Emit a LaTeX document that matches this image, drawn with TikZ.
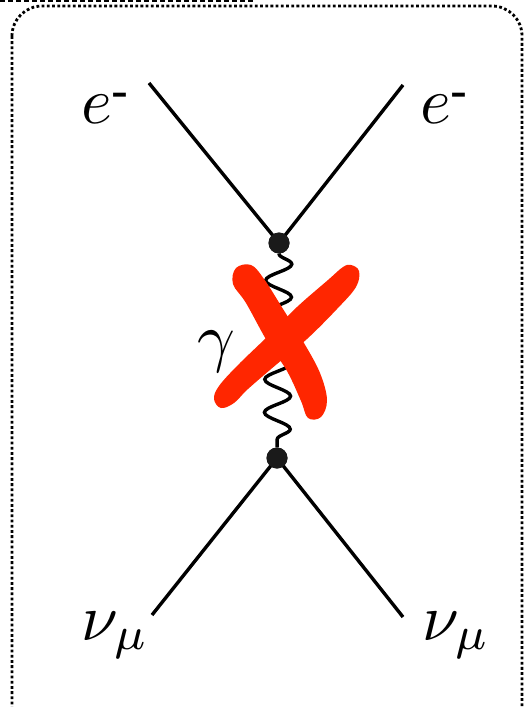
\documentclass[tikz,border=0pt]{standalone}
\usetikzlibrary{decorations.pathmorphing}
\definecolor{xred}{RGB}{255,38,0}
\definecolor{dotcol}{RGB}{26,26,26}
\begin{document}
\begin{tikzpicture}[x=1pt,y=-1pt,
  fermion/.style={line width=3.4pt},
  photon/.style={line width=3.4pt,decorate,decoration={snake,segment length=33pt,amplitude=13pt}},
  vertexdot/.style={circle,fill=dotcol,inner sep=0pt,minimum size=21pt},
  frame/.style={line width=2.8pt,dash pattern=on 2.8pt off 2.4pt,rounded corners=30pt},
  otherframe/.style={line width=2.8pt,dash pattern=on 5pt off 3pt},
  lbl/.style={inner sep=0pt,scale=6.6},
  cross/.style={fill=xred,draw=none}]
\useasboundingbox (0,0) rectangle (530,707);
\begin{scope}
  \clip (0,0) rectangle (530,707);
  \draw[frame] (12,6) rectangle (522,740);
  \draw[otherframe] (0,1) -- (255,1);
\end{scope}
% vertices
\node[vertexdot] (v1) at (279,243) {};
\node[vertexdot] (v2) at (277,458) {};
% external ends
\coordinate (a) at (149,83);
\coordinate (b) at (403,85);
\coordinate (c) at (152,615);
\coordinate (d) at (403,617);
\draw[fermion] (a) -- (v1.center) -- (b);
\draw[fermion] (c) -- (v2.center) -- (d);
\node[vertexdot] at (v1) {};
\node[vertexdot] at (v2) {};
\draw[photon] (v1) -- (v2);
% labels
\node[lbl,anchor=base west] (el) at (80,123) {$e$\raisebox{3.1pt}{\tiny\bfseries -}};
\node[lbl,anchor=base west] (er) at (419,123) {$e$\raisebox{3.1pt}{\tiny\bfseries -}};
\node[lbl,anchor=base west] (nl) at (80,640) {$\nu_\mu$};
\node[lbl,anchor=base west] (nr) at (421,640) {$\nu_\mu$};
\node[lbl] (g) at (216,352) {$\gamma$};
% red cross
\fill[cross] plot[smooth cycle,tension=0.6] coordinates {(236,268) (251,265) (264,279) (283,309) (304,343) (320,373) (327,400) (321,417) (308,418) (301,401) (287,371) (267,341) (246,303) (233,284)};
\fill[cross] plot[smooth cycle,tension=0.6] coordinates {(351,265) (359,271) (356,287) (337,309) (307,339) (277,364) (248,389) (234,403) (221,408) (214,399) (219,386) (238,365) (267,337) (297,307) (328,280) (343,267)};
\end{tikzpicture}
\end{document}
